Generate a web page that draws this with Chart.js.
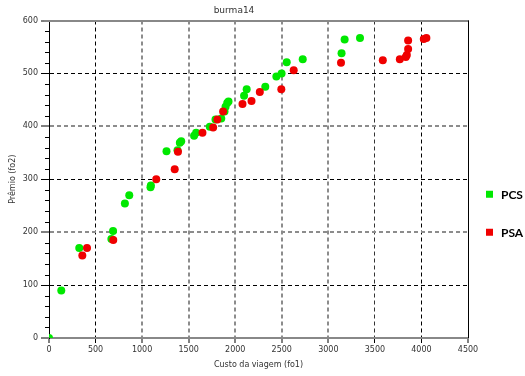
<!DOCTYPE html>
<html><head><meta charset="utf-8">
<script src="https://cdn.jsdelivr.net/npm/chart.js@4"></script>
<style>html,body{margin:0;padding:0;background:#fff}canvas{display:block}</style>
</head><body>
<canvas id="c" width="525" height="376"></canvas>
<script>
const chartTitle = 'burma14';
const xTitle = 'Custo da viagem (fo1)';
const yTitle = 'Prêmio (fo2)';
const seriesNames = ['PCS', 'PSA'];
const seriesColors = ['#00e800', '#f00000'];
const xTicks = [0, 500, 1000, 1500, 2000, 2500, 3000, 3500, 4000, 4500];
const yTicks = [0, 100, 200, 300, 400, 500, 600];

const pcsX = [0, 132, 325, 670, 688, 815, 862, 1090, 1094, 1262, 1380, 1405, 1420, 1558, 1580, 1727, 1788, 1850, 1885, 1896, 1914, 1928, 2095, 2123, 2323, 2442, 2498, 2553, 2725, 3142, 3175, 3340];
const pcsY = [0, 90, 170, 187, 202, 254, 270, 285, 288, 353, 355, 369, 372, 382, 388, 399, 413, 415, 428, 437, 444, 447, 458, 470, 475, 494, 500, 521, 527, 538, 564, 567];
const psaX = [358, 408, 690, 1152, 1350, 1385, 1648, 1763, 1808, 1870, 2078, 2175, 2264, 2495, 2628, 3136, 3585, 3768, 3832, 3843, 3857, 3857, 4025, 4053];
const psaY = [156, 170, 185, 300, 319, 352, 388, 398, 413, 428, 442, 448, 465, 470, 506, 520, 525, 527, 531, 535, 546, 562, 565, 567];

const toPts = (xs, ys) => xs.map((x, i) => ({x: x, y: ys[i]}));

const darkX = {500: '#000', 3500: '#333', 4000: '#000'};
const darkY = {100: '#000', 300: '#000', 500: '#000'};

const framePlugin = {
  id: 'frame',
  afterDraw(chart) {
    const {ctx, chartArea: a, scales} = chart;
    ctx.save();
    ctx.strokeStyle = '#888'; ctx.lineWidth = 2;
    ctx.beginPath(); ctx.moveTo(a.left - 5, Math.round(a.top)); ctx.lineTo(a.right + 1, Math.round(a.top)); ctx.stroke();
    ctx.strokeStyle = '#000'; ctx.lineWidth = 1;
    ctx.beginPath(); ctx.moveTo(Math.round(a.right) + 0.5, a.top); ctx.lineTo(Math.round(a.right) + 0.5, a.bottom); ctx.stroke();
    const ys = scales.y;
    for (let v = ys.min + 20; v < ys.max; v += 20) {
      if (v % 100 === 0) continue;
      const p = Math.round(ys.getPixelForValue(v)) + 0.5;
      ctx.beginPath(); ctx.moveTo(a.left - 4, p); ctx.lineTo(a.left, p); ctx.stroke();
    }
    const cy = (a.top + a.bottom) / 2;
    chart.data.datasets.slice().sort((p, q) => p.legendIndex - q.legendIndex).forEach((ds, i) => {
      const y = cy + 15 + i * 38;
      ctx.fillStyle = ds.backgroundColor;
      ctx.fillRect(a.right + 18, y - 3.5, 7, 7);
      ctx.fillStyle = '#000';
      ctx.font = 'bold 12px Lato, "Liberation Sans", sans-serif';
      ctx.textBaseline = 'middle';
      ctx.textAlign = 'left';
      ctx.fillText(ds.label, a.right + 33, y + 1);
    });
    ctx.restore();
  }
};

new Chart(document.getElementById('c'), {
  type: 'scatter',
  data: {
    datasets: [
      {label: seriesNames[1], legendIndex: 1, data: toPts(psaX, psaY), backgroundColor: seriesColors[1], pointRadius: 4, pointHoverRadius: 4, borderWidth: 0, clip: 0},
      {label: seriesNames[0], legendIndex: 0, data: toPts(pcsX, pcsY), backgroundColor: seriesColors[0], pointRadius: 4, pointHoverRadius: 4, borderWidth: 0, clip: 0}
    ]
  },
  options: {
    responsive: false,
    animation: false,
    events: [],
    layout: {padding: {left: 0, right: 57, top: 0, bottom: 0}},
    plugins: {
      legend: {display: false},
      tooltip: {enabled: false},
      title: {display: true, text: chartTitle, color: '#333', font: {family: 'DejaVu Sans', size: 9, weight: 'normal'}, padding: {top: 5, bottom: 4.7}}
    },
    scales: {
      x: {
        type: 'linear', min: xTicks[0], max: xTicks[xTicks.length - 1],
        afterBuildTicks: s => { s.ticks = xTicks.map(v => ({value: v})); },
        afterFit: s => { s.height = 38; },
        ticks: {color: '#333', font: {family: 'DejaVu Sans', size: 8}, padding: 2, maxRotation: 0, autoSkip: false, callback: v => String(v)},
        grid: {
          color: c => (c.tick && (c.tick.value === xTicks[0] || c.tick.value === xTicks[xTicks.length - 1])) ? 'rgba(0,0,0,0)' : (darkX[c.tick && c.tick.value] || '#8c8c8c'),
          lineWidth: c => (c.tick && darkX[c.tick.value]) ? 1 : 2,
          tickColor: '#000', tickWidth: 1, tickLength: 5
        },
        border: {display: true, color: '#888', width: 2, dash: [4, 3]},
        title: {display: true, text: xTitle, color: '#333', font: {family: 'DejaVu Sans', size: 8}, padding: {top: 0, bottom: 6}}
      },
      y: {
        type: 'linear', min: yTicks[0], max: yTicks[yTicks.length - 1],
        afterBuildTicks: s => { s.ticks = yTicks.map(v => ({value: v})); },
        afterFit: s => { s.width = 49; },
        ticks: {color: '#333', font: {family: 'DejaVu Sans', size: 8}, padding: 3, callback: v => String(v)},
        grid: {
          color: c => (c.tick && (c.tick.value === yTicks[0] || c.tick.value === yTicks[yTicks.length - 1])) ? 'rgba(0,0,0,0)' : (darkY[c.tick && c.tick.value] || '#8c8c8c'),
          lineWidth: c => (c.tick && darkY[c.tick.value]) ? 1 : 2,
          tickColor: '#000', tickWidth: 1, tickLength: 8
        },
        border: {display: true, color: '#000', width: 1, dash: [4, 3]},
        title: {display: true, text: yTitle, color: '#333', font: {family: 'DejaVu Sans', size: 8}, padding: {top: 8, bottom: 0}}
      }
    }
  },
  plugins: [framePlugin]
});
</script>
</body></html>
